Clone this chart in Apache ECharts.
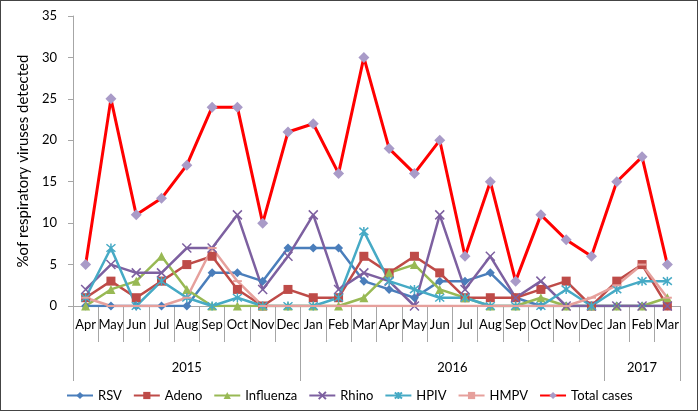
<!DOCTYPE html>
<html>
<head>
<meta charset="utf-8">
<script src="https://cdn.jsdelivr.net/npm/echarts@6/dist/echarts.min.js"></script>
<style>
html,body{margin:0;padding:0;background:#fff;}
#frame{width:698px;height:411px;box-sizing:border-box;border:1px solid #444;position:relative;}
#chart{position:absolute;left:0;top:0;width:696px;height:409px;}
</style>
</head>
<body>
<div id="frame"><div id="chart"></div></div>
<script>
// ---- data ----
const months = ['Apr','May','Jun','Jul','Aug','Sep','Oct','Nov','Dec','Jan','Feb','Mar','Apr','May','Jun','Jul','Aug','Sep','Oct','Nov','Dec','Jan','Feb','Mar'];
const years = ['2015','2016','2017'];
const monthsPerYear = [9,12,3];
const yTicks = [0,5,10,15,20,25,30,35];

const rsv       = [0,0,0,0,0,4,4,3,7,7,7,3,2,1,3,3,4,1,0,0,0,0,0,0];
const adeno     = [1,3,1,3,5,6,2,0,2,1,1,6,4,6,4,1,1,1,2,3,0,3,5,0];
const influenza = [0,2,3,6,2,0,0,0,0,0,0,1,4,5,2,1,0,0,1,0,0,0,0,1];
const rhino     = [2,5,4,4,7,7,11,2,6,11,2,4,3,0,11,2,6,1,3,0,0,0,0,0];
const hpiv      = [1,7,0,3,1,0,1,0,0,0,1,9,3,2,1,1,0,0,0,2,0,2,3,3];
const hmpv      = [1,0,0,0,1,7,3,0,0,0,0,0,0,0,0,0,0,0,0,0,1,2.5,5,1];
const total     = [5,25,11,13,17,24,24,10,21,22,16,30,19,16,20,6,15,3,11,8,6,15,18,5];

// ---- year separators / label centers derived from month counts ----
const yearBounds = [0];
monthsPerYear.forEach(n => yearBounds.push(yearBounds[yearBounds.length-1] + n));
const yearCenters = years.map((y,i) => (yearBounds[i] + yearBounds[i+1]) / 2);

const FONT = 'Lato, Carlito, Roboto, sans-serif';
const axisGray = '#A6A6A6';

const X_SYM = 'path://M0,0L10,10M10,0L0,10';
const AST_SYM = 'path://M0,0L10,10M10,0L0,10M5,-1L5,11';

function mk(name, data, color, symbol, size, extra) {
  return Object.assign({
    name, type: 'line', data, xAxisIndex: 0, yAxisIndex: 0,
    symbol, symbolSize: size,
    lineStyle: { color, width: 2.5 },
    itemStyle: { color, borderColor: color, borderWidth: 0 },
    emphasis: { disabled: true },
    animation: false, z: 3
  }, extra || {});
}

const series = [
  mk('RSV', rsv, '#4A7EBB', 'diamond', 9),
  mk('Adeno', adeno, '#BE4B48', 'rect', 9),
  mk('Influenza', influenza, '#98B954', 'triangle', 9),
  mk('Rhino', rhino, '#7D60A0', X_SYM, 9, { itemStyle: { color: 'none', borderColor: '#7D60A0', borderWidth: 1.5 } }),
  mk('HPIV', hpiv, '#46AAC5', AST_SYM, 9, { itemStyle: { color: 'none', borderColor: '#46AAC5', borderWidth: 1.5 } }),
  mk('HMPV', hmpv, '#E6A09C', 'rect', [9, 2]),
  mk('Total cases', total, '#FF0000', 'diamond', 11, {
    lineStyle: { color: '#FF0000', width: 3 },
    itemStyle: { color: '#A99BC8', borderColor: '#A99BC8', borderWidth: 0 }
  })
];

const chart = echarts.init(document.getElementById('chart'), null, { renderer: 'canvas' });
chart.setOption({
  animation: false,
  textStyle: { fontFamily: FONT },
  grid: { left: 72, right: 17, top: 15, bottom: 104, containLabel: false },
  legend: {
    left: 60, bottom: 3,
    itemWidth: 26, itemHeight: 9, itemGap: 11,
    textStyle: { fontFamily: FONT, fontSize: 13, color: '#000' },
    data: series.map(s => s.name)
  },
  xAxis: [
    {
      type: 'category', data: months, boundaryGap: true,
      axisLine: { lineStyle: { color: axisGray, width: 1 } },
      axisTick: { show: true, length: 36, lineStyle: { color: axisGray } },
      axisLabel: { interval: 0, margin: 12, fontSize: 13, color: '#000', fontFamily: FONT }
    },
    {
      type: 'value', min: 0, max: months.length, position: 'bottom',
      gridIndex: 0,
      axisLine: { show: false },
      splitLine: { show: false },
      axisTick: { show: true, length: 75, customValues: yearBounds, lineStyle: { color: axisGray } },
      axisLabel: {
        customValues: yearCenters, margin: 55, fontSize: 13, color: '#000', fontFamily: FONT,
        formatter: v => { const i = yearCenters.indexOf(v); return i >= 0 ? years[i] : ''; }
      }
    }
  ],
  yAxis: {
    type: 'value', min: 0, max: 35, interval: 5,
    name: '%of respiratory viruses detected',
    nameLocation: 'middle', nameGap: 39, nameRotate: 90,
    nameTextStyle: { fontSize: 15, color: '#000', fontFamily: FONT },
    axisLine: { show: true, lineStyle: { color: axisGray } },
    axisTick: { show: true, length: 5, lineStyle: { color: axisGray } },
    splitLine: { show: false },
    axisLabel: { margin: 16, fontSize: 13, color: '#000', fontFamily: FONT,
      customValues: yTicks }
  },
  series
});
</script>
</body>
</html>
